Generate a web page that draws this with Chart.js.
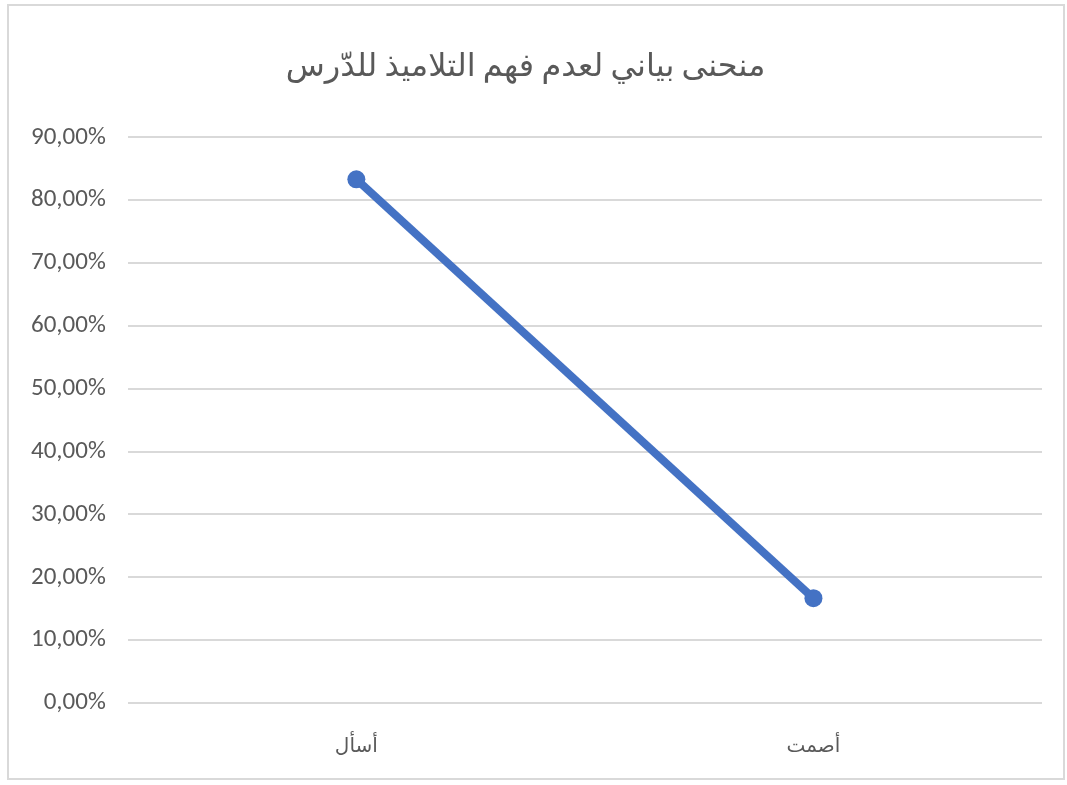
<!DOCTYPE html>
<html>
<head>
<meta charset="utf-8">
<script src="https://cdn.jsdelivr.net/npm/chart.js@4.4.0/dist/chart.umd.min.js"></script>
<style>
    html, body { margin: 0; padding: 0; background: #fff; }
    .chart-box {
        position: absolute;
        left: 7px; top: 4px;
        width: 1054px; height: 772px;
        border: 2px solid #d9d9d9;
        background: #fff;
    }
</style>
</head>
<body>
<div class="chart-box"><canvas id="lineChart"></canvas></div>
<script>
// 数据
const categories = ['أسأل', 'أصمت'];
const values = [83.33, 16.67];
const yTicks = [0, 10, 20, 30, 40, 50, 60, 70, 80, 90];
const chartTitle = 'منحنى بياني لعدم فهم التلاميذ للدّرس';

const fontFamily = 'Calibri, Carlito, "Liberation Sans", "DejaVu Sans", sans-serif';

document.addEventListener('DOMContentLoaded', function() {
    const ctx = document.getElementById('lineChart');

    new Chart(ctx, {
        type: 'line',
        data: {
            labels: categories,
            datasets: [{
                data: values,
                borderColor: '#4472c4',
                backgroundColor: '#4472c4',
                borderWidth: 8,
                pointRadius: 9,
                pointBorderWidth: 0,
                pointBackgroundColor: '#4472c4',
                tension: 0
            }]
        },
        options: {
            responsive: true,
            maintainAspectRatio: false,
            animation: false,
            layout: {
                padding: { left: 0, right: 21, top: 10, bottom: -13 }
            },
            plugins: {
                legend: { display: false },
                tooltip: { enabled: false },
                title: {
                    display: true,
                    text: chartTitle,
                    color: '#595959',
                    font: { family: fontFamily, size: 32, weight: 'normal' },
                    padding: { top: 33, bottom: 50 }
                }
            },
            scales: {
                x: {
                    offset: true,
                    grid: { display: false, drawTicks: false },
                    border: { display: false },
                    ticks: {
                        color: '#595959',
                        font: { family: fontFamily, size: 20 },
                        padding: 32
                    }
                },
                y: {
                    min: yTicks[0],
                    max: yTicks[yTicks.length - 1],
                    afterBuildTicks: function(axis) {
                        axis.ticks = yTicks.map(v => ({ value: v }));
                    },
                    grid: {
                        color: '#d9d9d9',
                        lineWidth: 2,
                        drawTicks: false
                    },
                    border: { display: false },
                    ticks: {
                        color: '#595959',
                        font: { family: fontFamily, size: 25 },
                        padding: 22,
                        callback: function(value) {
                            return value.toFixed(2).replace('.', ',') + '%';
                        }
                    }
                }
            }
        }
    });
});
</script>
</body>
</html>
